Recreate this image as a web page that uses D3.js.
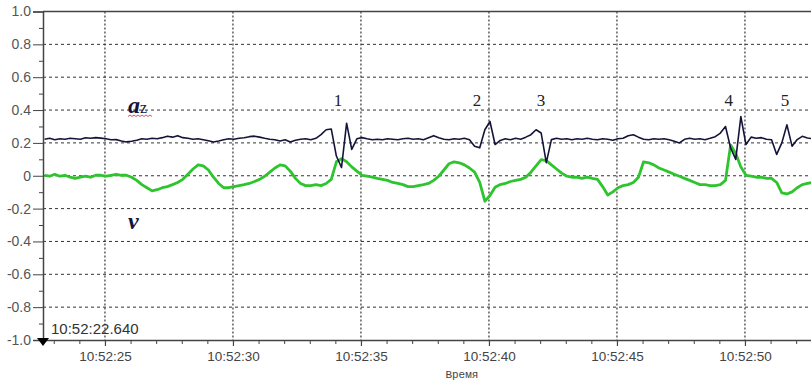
<!DOCTYPE html>
<html>
<head>
<meta charset="utf-8">
<script src="https://cdn.jsdelivr.net/npm/d3@7"></script>
<style>
  body { margin: 0; background: #fff; }
  svg { display: block; }
</style>
</head>
<body>
<svg id="chart" width="811" height="383"></svg>
<script>
// samples: start second (after 10:52:00) and sample step
const t0 = 22.64, dt = 0.2;

// v - green trace
const vValues = [
  0.003,-0.003,0.009,-0.003,0.003,-0.009,-0.016,-0.009,-0.003,-0.009,
  0.003,0.003,-0.003,0.003,0.009,0.003,0.003,-0.009,-0.028,-0.054,
  -0.073,-0.092,-0.085,-0.073,-0.066,-0.054,-0.041,-0.022,0.009,0.041,
  0.066,0.06,0.035,-0.009,-0.047,-0.073,-0.073,-0.066,-0.06,-0.054,
  -0.047,-0.035,-0.022,-0.003,0.022,0.047,0.066,0.06,0.028,-0.016,
  -0.047,-0.06,-0.06,-0.054,-0.06,-0.047,-0.022,0.085,0.104,0.085,
  0.054,0.028,0.003,-0.003,-0.009,-0.016,-0.022,-0.028,-0.041,-0.047,
  -0.054,-0.066,-0.066,-0.06,-0.054,-0.047,-0.028,-0.003,0.035,0.073,
  0.085,0.079,0.066,0.047,0.022,-0.041,-0.155,-0.12,-0.07,-0.054,
  -0.047,-0.035,-0.028,-0.022,-0.009,0.022,0.06,0.098,0.092,0.066,
  0.041,0.016,-0.003,-0.009,-0.009,-0.016,-0.009,-0.016,-0.022,-0.066,
  -0.117,-0.098,-0.073,-0.06,-0.054,-0.041,-0.009,0.085,0.079,0.066,
  0.047,0.035,0.022,0.009,-0.003,-0.016,-0.028,-0.041,-0.054,-0.054,
  -0.06,-0.06,-0.054,-0.028,0.187,0.136,0.054,0.003,-0.003,-0.009,
  -0.009,-0.016,-0.016,-0.041,-0.104,-0.111,-0.098,-0.073,-0.054,-0.047,
  -0.041
];

// az - dark trace
const azValues = [
  0.222,0.228,0.219,0.225,0.222,0.228,0.225,0.222,0.231,0.228,
  0.232,0.229,0.225,0.219,0.22,0.212,0.206,0.21,0.216,0.225,
  0.222,0.228,0.225,0.232,0.241,0.235,0.244,0.232,0.228,0.222,
  0.225,0.219,0.213,0.206,0.212,0.219,0.225,0.222,0.228,0.231,
  0.238,0.241,0.235,0.228,0.222,0.219,0.212,0.219,0.206,0.216,
  0.222,0.225,0.219,0.228,0.25,0.28,0.285,0.12,0.05,0.32,
  0.16,0.225,0.232,0.225,0.219,0.222,0.219,0.225,0.222,0.219,
  0.225,0.228,0.222,0.225,0.219,0.232,0.244,0.232,0.222,0.219,
  0.225,0.222,0.228,0.219,0.18,0.17,0.28,0.33,0.19,0.215,
  0.225,0.219,0.228,0.222,0.235,0.25,0.28,0.26,0.08,0.22,
  0.228,0.222,0.225,0.219,0.225,0.222,0.228,0.222,0.219,0.225,
  0.222,0.216,0.225,0.228,0.244,0.25,0.235,0.222,0.219,0.225,
  0.222,0.225,0.219,0.21,0.2,0.222,0.228,0.222,0.225,0.219,
  0.228,0.238,0.26,0.3,0.17,0.1,0.36,0.19,0.235,0.228,
  0.232,0.222,0.219,0.13,0.2,0.31,0.18,0.22,0.24,0.23,
  0.225
];

const yTicks = [1, 0.8, 0.6, 0.4, 0.2, 0, -0.2, -0.4, -0.6, -0.8, -1];
const yTickLabels = ["1.0","0.8","0.6","0.4","0.2","0","-0.2","-0.4","-0.6","-0.8","-1.0"];
const yMinor = [0.9, 0.7, 0.5, 0.3, 0.1, -0.1, -0.3, -0.5, -0.7, -0.9];
const xMajor = [25, 30, 35, 40, 45, 50];
const xMajorLabels = ["10:52:25","10:52:30","10:52:35","10:52:40","10:52:45","10:52:50"];
const xMinor = [23,24,26,27,28,29,31,32,33,34,36,37,38,39,41,42,43,44,46,47,48,49,51,52];
const eventTimes = [34.1, 39.53, 42.03, 49.37, 51.56];
const eventLabels = ["1","2","3","4","5"];
const startLabel = "10:52:22.640";

const sans = "'Liberation Sans', Arial, sans-serif";
const serif = "'Liberation Serif', 'Times New Roman', serif";
const mono = "'Liberation Mono', 'DejaVu Sans Mono', monospace";

const svg = d3.select("#chart");
const pLeft = 43, pRight = 811, pTop = 11.5, pBottom = 340;

const x = d3.scaleLinear().domain([22.58, 52.58]).range([pLeft, pRight]);
const y = d3.scaleLinear().domain([-1, 1]).range([pBottom, pTop]);

svg.append("defs").append("clipPath").attr("id", "plot")
   .append("rect").attr("x", pLeft).attr("y", pTop)
   .attr("width", pRight - pLeft).attr("height", pBottom - pTop);

// grid
svg.append("g").selectAll("line")
   .data(yTicks.filter(d => d > -1 && d < 1))
   .enter().append("line")
   .attr("x1", pLeft).attr("x2", pRight)
   .attr("y1", d => y(d)).attr("y2", d => y(d))
   .attr("stroke", "#333").attr("stroke-width", 1)
   .attr("stroke-dasharray", "3,3");

svg.append("g").selectAll("line")
   .data(xMajor)
   .enter().append("line")
   .attr("x1", d => x(d)).attr("x2", d => x(d))
   .attr("y1", pTop).attr("y2", pBottom)
   .attr("stroke", "#333").attr("stroke-width", 1.2)
   .attr("stroke-dasharray", "2,2");

// top frame line
svg.append("line")
   .attr("x1", pLeft).attr("x2", pRight)
   .attr("y1", y(1)).attr("y2", y(1))
   .attr("stroke", "#444").attr("stroke-width", 1.5);

// traces
const series = (vals) => vals.map((v, i) => [t0 + i * dt, v]);
const line = d3.line().x(d => x(d[0])).y(d => y(d[1]));

const traces = svg.append("g").attr("clip-path", "url(#plot)");
traces.append("path")
   .datum(series(vValues))
   .attr("d", line)
   .attr("fill", "none")
   .attr("stroke", "#2ec42e")
   .attr("stroke-width", 2.8)
   .attr("stroke-linejoin", "round");
traces.append("path")
   .datum(series(azValues))
   .attr("d", line)
   .attr("fill", "none")
   .attr("stroke", "#14143a")
   .attr("stroke-width", 1.6)
   .attr("stroke-linejoin", "round");

// y axis
const yAxis = svg.append("g").attr("transform", `translate(${pLeft},0)`)
   .call(d3.axisLeft(y).tickValues(yTicks).tickSize(10).tickPadding(2)
         .tickFormat((d, i) => yTickLabels[i]));
yAxis.select(".domain").attr("stroke", "#444").attr("stroke-width", 1.5);
yAxis.selectAll(".tick line").attr("stroke", "#444");
yAxis.selectAll("text")
   .attr("fill", "#555")
   .style("font-family", sans)
   .style("font-size", "14px");

svg.append("g").attr("transform", `translate(${pLeft},0)`)
   .call(d3.axisLeft(y).tickValues(yMinor).tickSize(4).tickFormat(""))
   .call(g => g.select(".domain").remove())
   .selectAll(".tick line").attr("stroke", "#444");

// x axis
const xAxis = svg.append("g").attr("transform", `translate(0,${pBottom})`)
   .call(d3.axisBottom(x).tickValues(xMajor).tickSize(6).tickPadding(5)
         .tickFormat((d, i) => xMajorLabels[i]));
xAxis.select(".domain").attr("stroke", "#444").attr("stroke-width", 1.5)
     .attr("d", `M${pLeft},0.5H${pRight}`);
xAxis.selectAll(".tick line").attr("stroke", "#444").attr("stroke-width", 1.2);
xAxis.selectAll("text")
   .attr("fill", "#444")
   .style("font-family", sans)
   .style("font-size", "13.5px");

svg.append("g").attr("transform", `translate(0,${pBottom})`)
   .call(d3.axisBottom(x).tickValues(xMinor).tickSize(4).tickFormat(""))
   .call(g => g.select(".domain").remove())
   .selectAll(".tick line").attr("stroke", "#444");

// start marker
svg.append("path")
   .attr("d", `M${pLeft - 6},${pBottom - 2}L${pLeft + 6},${pBottom - 2}L${pLeft},${pBottom + 6}Z`)
   .attr("fill", "#000");
svg.append("text")
   .attr("x", pLeft + 8).attr("y", pBottom - 6)
   .attr("fill", "#333")
   .style("font-family", sans)
   .style("font-size", "15px")
   .text(startLabel);

svg.append("text")
   .attr("x", x(38.3)).attr("y", 378)
   .attr("fill", "#444")
   .style("font-family", mono)
   .style("font-size", "11px")
   .text("Время");

// series names
const az = svg.append("text")
   .attr("x", 128).attr("y", 113)
   .attr("fill", "#14143a")
   .style("font-family", serif);
az.append("tspan").style("font-size", "24px").style("font-weight", "bold")
  .style("font-style", "italic").text("a");
az.append("tspan").style("font-size", "16px").text("z");
svg.append("path")
   .attr("d", "M128,116.5 l2,-1.5 2,1.5 2,-1.5 2,1.5 2,-1.5 2,1.5 2,-1.5 2,1.5 2,-1.5 2,1.5 2,-1.5 2,1.5")
   .attr("fill", "none").attr("stroke", "#d04060").attr("stroke-width", 0.9);

svg.append("text")
   .attr("x", 128).attr("y", 229)
   .attr("fill", "#14143a")
   .style("font-family", serif)
   .style("font-size", "24px").style("font-weight", "bold").style("font-style", "italic")
   .text("v");

// event numbers
svg.append("g").selectAll("text")
   .data(eventTimes)
   .enter().append("text")
   .attr("x", d => x(d)).attr("y", y(0.425))
   .attr("text-anchor", "middle")
   .attr("fill", "#222")
   .style("font-family", serif)
   .style("font-size", "17px")
   .text((d, i) => eventLabels[i]);
</script>
</body>
</html>
